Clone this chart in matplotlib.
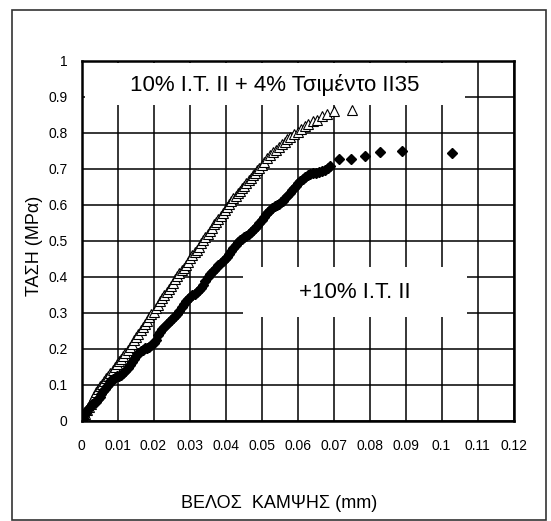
import matplotlib
matplotlib.use("Agg")
import matplotlib.pyplot as plt
from matplotlib.patches import Rectangle

plt.rcParams['font.family'] = ['Liberation Sans', 'DejaVu Sans']

# ====== data ======
# 10% I.T. II + 4% cement (open triangles)
tri_x = [0.0000, 0.0005, 0.0010, 0.0015, 0.0020, 0.0025, 0.0030, 0.0035, 0.0040, 0.0045,
         0.0050, 0.0056, 0.0062, 0.0068, 0.0074, 0.0080, 0.0086, 0.0092, 0.0098, 0.0104,
         0.0110, 0.0116, 0.0122, 0.0128, 0.0134, 0.0140, 0.0146, 0.0152, 0.0158, 0.0164,
         0.0170, 0.0176, 0.0182, 0.0188, 0.0194, 0.0200, 0.0206, 0.0212, 0.0218, 0.0224,
         0.0230, 0.0236, 0.0242, 0.0248, 0.0254, 0.0260, 0.0266, 0.0272, 0.0278, 0.0284,
         0.0290, 0.0296, 0.0302, 0.0308, 0.0314, 0.0320, 0.0326, 0.0332, 0.0338, 0.0344,
         0.0350, 0.0356, 0.0362, 0.0368, 0.0374, 0.0380, 0.0386, 0.0392, 0.0398, 0.0404,
         0.0410, 0.0416, 0.0422, 0.0428, 0.0434, 0.0440, 0.0446, 0.0452, 0.0458, 0.0464,
         0.0470, 0.0476, 0.0482, 0.0488, 0.0494, 0.0500, 0.0508, 0.0516, 0.0524, 0.0532,
         0.0540, 0.0548, 0.0556, 0.0564, 0.0572, 0.0580, 0.0590, 0.0600, 0.0610, 0.0620,
         0.0630, 0.0642, 0.0655, 0.0668, 0.0683, 0.0700, 0.0751]
tri_y = [0.000, 0.010, 0.020, 0.030, 0.040, 0.048, 0.058, 0.068, 0.080, 0.090,
         0.098, 0.104, 0.110, 0.118, 0.126, 0.134, 0.142, 0.150, 0.158, 0.166,
         0.172, 0.180, 0.190, 0.198, 0.206, 0.214, 0.224, 0.232, 0.242, 0.252,
         0.260, 0.268, 0.278, 0.288, 0.296, 0.304, 0.314, 0.322, 0.334, 0.342,
         0.350, 0.358, 0.366, 0.374, 0.384, 0.394, 0.402, 0.410, 0.418, 0.426,
         0.434, 0.442, 0.452, 0.462, 0.470, 0.476, 0.484, 0.494, 0.502, 0.512,
         0.520, 0.528, 0.536, 0.546, 0.554, 0.562, 0.570, 0.578, 0.586, 0.594,
         0.602, 0.610, 0.618, 0.626, 0.634, 0.640, 0.646, 0.654, 0.660, 0.668,
         0.676, 0.684, 0.690, 0.698, 0.704, 0.712, 0.720, 0.730, 0.738, 0.746,
         0.754, 0.762, 0.770, 0.776, 0.782, 0.788, 0.796, 0.804, 0.812, 0.820,
         0.826, 0.832, 0.836, 0.846, 0.852, 0.860, 0.864]

# +10% I.T. II (filled diamonds)
dia_x = [0.0000, 0.0004, 0.0008, 0.0012, 0.0016, 0.0020, 0.0025, 0.0030, 0.0035, 0.0040,
         0.0045, 0.0050, 0.0055, 0.0060, 0.0065, 0.0070, 0.0075, 0.0080, 0.0086, 0.0092,
         0.0098, 0.0104, 0.0110, 0.0116, 0.0122, 0.0128, 0.0134, 0.0140, 0.0146, 0.0152,
         0.0158, 0.0164, 0.0170, 0.0176, 0.0182, 0.0188, 0.0194, 0.0200, 0.0206, 0.0212,
         0.0218, 0.0224, 0.0230, 0.0236, 0.0242, 0.0248, 0.0254, 0.0260, 0.0266, 0.0272,
         0.0278, 0.0284, 0.0290, 0.0296, 0.0302, 0.0308, 0.0314, 0.0320, 0.0326, 0.0332,
         0.0338, 0.0344, 0.0350, 0.0356, 0.0362, 0.0368, 0.0374, 0.0380, 0.0386, 0.0392,
         0.0398, 0.0404, 0.0410, 0.0416, 0.0422, 0.0428, 0.0434, 0.0440, 0.0446, 0.0452,
         0.0458, 0.0464, 0.0470, 0.0476, 0.0482, 0.0488, 0.0494, 0.0500, 0.0506, 0.0512,
         0.0518, 0.0524, 0.0530, 0.0536, 0.0542, 0.0548, 0.0554, 0.0560, 0.0566, 0.0572,
         0.0578, 0.0584, 0.0590, 0.0596, 0.0602, 0.0608, 0.0614, 0.0620, 0.0628, 0.0636,
         0.0644, 0.0652, 0.0660, 0.0668, 0.0676, 0.0684, 0.0690, 0.0715, 0.0748, 0.0788,
         0.0829, 0.0890, 0.1029]
dia_y = [0.000, 0.008, 0.016, 0.022, 0.030, 0.036, 0.042, 0.046, 0.050, 0.054,
         0.060, 0.066, 0.074, 0.082, 0.090, 0.098, 0.104, 0.110, 0.116, 0.120,
         0.124, 0.126, 0.128, 0.132, 0.138, 0.148, 0.156, 0.164, 0.172, 0.180,
         0.188, 0.194, 0.198, 0.202, 0.204, 0.206, 0.210, 0.216, 0.226, 0.238,
         0.248, 0.256, 0.262, 0.268, 0.274, 0.280, 0.286, 0.292, 0.298, 0.306,
         0.316, 0.324, 0.332, 0.338, 0.344, 0.350, 0.354, 0.358, 0.364, 0.370,
         0.378, 0.388, 0.400, 0.408, 0.414, 0.420, 0.426, 0.432, 0.438, 0.444,
         0.450, 0.456, 0.464, 0.472, 0.480, 0.488, 0.496, 0.502, 0.506, 0.510,
         0.514, 0.518, 0.524, 0.530, 0.536, 0.542, 0.550, 0.558, 0.566, 0.574,
         0.580, 0.586, 0.592, 0.596, 0.600, 0.604, 0.608, 0.612, 0.618, 0.626,
         0.634, 0.642, 0.648, 0.654, 0.660, 0.666, 0.672, 0.678, 0.682, 0.686,
         0.688, 0.690, 0.692, 0.694, 0.698, 0.702, 0.708, 0.727, 0.727, 0.737,
         0.746, 0.750, 0.745]

x_ticks = [0, 0.01, 0.02, 0.03, 0.04, 0.05, 0.06, 0.07, 0.08, 0.09, 0.1, 0.11, 0.12]
x_labels = ['0', '0.01', '0.02', '0.03', '0.04', '0.05', '0.06', '0.07', '0.08', '0.09', '0.1', '0.11', '0.12']
y_ticks = [0, 0.1, 0.2, 0.3, 0.4, 0.5, 0.6, 0.7, 0.8, 0.9, 1]
y_labels = ['0', '0.1', '0.2', '0.3', '0.4', '0.5', '0.6', '0.7', '0.8', '0.9', '1']

label_top = '10% I.T. ΙΙ + 4% Τσιμέντο ΙΙ35'
label_mid = '+10% I.T. ΙΙ'

# ====== figure ======
fig = plt.figure(figsize=(5.51, 5.21), dpi=100)
ax = fig.add_axes([0.148, 0.192, 0.784, 0.691])

ax.set_xlim(0, 0.12)
ax.set_ylim(0, 1)
ax.set_xticks(x_ticks)
ax.set_xticklabels(x_labels)
ax.set_yticks(y_ticks)
ax.set_yticklabels(y_labels)
ax.tick_params(length=0, labelsize=10)
ax.tick_params(axis='x', pad=13)
ax.tick_params(axis='y', pad=10)
ax.set_axisbelow(True)
ax.grid(True, color='black', linewidth=1.1)
for s in ax.spines.values():
    s.set_linewidth(1.8)

# white label boxes over the grid
ax.add_patch(Rectangle((0.0009, 0.878), 0.1057, 0.116, facecolor='white', edgecolor='none', zorder=1))
ax.add_patch(Rectangle((0.0448, 0.289), 0.0622, 0.138, facecolor='white', edgecolor='none', zorder=1))

ax.plot(tri_x, tri_y, linestyle='none', marker='^', markersize=7.5,
        markerfacecolor='white', markeredgecolor='black', markeredgewidth=0.8, zorder=3)
ax.plot(dia_x, dia_y, linestyle='none', marker='D', markersize=5.5,
        markerfacecolor='black', markeredgecolor='black', zorder=4)

ax.text(0.0537, 0.933, label_top, fontsize=16, ha='center', va='center', zorder=5)
ax.text(0.076, 0.356, label_mid, fontsize=16, ha='center', va='center', zorder=5)

ax.set_ylabel('ΤΑΣΗ (MPα)', fontsize=13)
ax.yaxis.set_label_coords(-0.09, 0.485)
ax.set_xlabel('ΒΕΛΟΣ  ΚΑΜΨΗΣ (mm)', fontsize=13)
ax.xaxis.set_label_coords(0.457, -0.205)

# outer frame
fig.patches.append(Rectangle((12 / 551, 1 / 521), 534 / 551, 510 / 521, transform=fig.transFigure,
                             fill=False, edgecolor='#333333', linewidth=1.2))

fig.savefig('out.png', dpi=100)
